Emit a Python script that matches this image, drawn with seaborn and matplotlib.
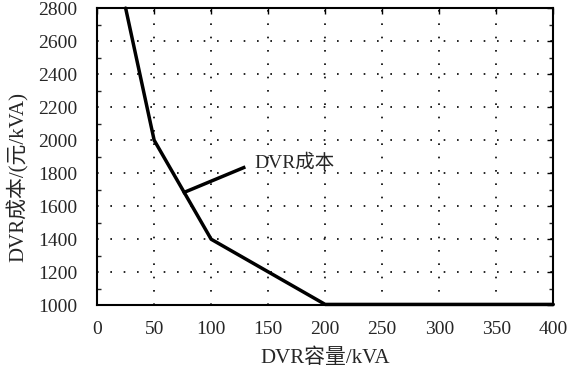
import pandas as pd
import seaborn as sns
import matplotlib.pyplot as plt
from matplotlib.ticker import MultipleLocator

# Datos
capacidad = [25, 50, 100, 200, 400]
costo = [2800, 2000, 1400, 1005, 1005]
x_ticks = [0, 50, 100, 150, 200, 250, 300, 350, 400]
y_ticks = [1000, 1200, 1400, 1600, 1800, 2000, 2200, 2400, 2600, 2800]

# Línea de la etiqueta "DVR成本"
guia_x = [75, 130]
guia_y = [1680, 1838]

df = pd.DataFrame({'cap': capacidad, 'cost': costo})

sns.set_style('white')
plt.rcParams['font.family'] = ['Liberation Serif', 'Noto Sans CJK SC']
plt.rcParams['xtick.direction'] = 'in'
plt.rcParams['ytick.direction'] = 'in'

fig, ax = plt.subplots(figsize=(5.68, 3.70), dpi=100)
fig.subplots_adjust(left=0.171, right=0.974, top=0.978, bottom=0.175)

sns.lineplot(data=df, x='cap', y='cost', ax=ax, color='black', linewidth=2.5,
             clip_on=False)
ax.plot(guia_x, guia_y, color='black', linewidth=2.5, solid_capstyle='butt')
ax.text(138, 1860, 'DVR成本', fontsize=14, va='center', ha='left')

ax.set_xlim(0, 400)
ax.set_ylim(1000, 2800)
ax.set_xticks(x_ticks)
ax.set_yticks(y_ticks)
ax.yaxis.set_minor_locator(MultipleLocator(100))
ax.tick_params(axis='both', which='major', labelsize=14, length=4, width=1,
               color='black', top=True, right=True)
ax.tick_params(axis='y', which='major', pad=14)
ax.tick_params(axis='x', which='major', pad=11)
ax.tick_params(axis='y', which='minor', length=3, width=1, left=True, right=True)
ax.grid(True, which='major', linestyle=(0, (1, 7)), color='black', linewidth=1.2)
for s in ax.spines.values():
    s.set_color('black')
    s.set_linewidth(1.5)

ax.set_xlabel('DVR容量/kVA', fontsize=15, labelpad=8)
ax.set_ylabel('DVR成本/(元/kVA)', fontsize=15)
ax.yaxis.set_label_coords(-0.15, 0.43)

plt.savefig('out.png', dpi=100)
